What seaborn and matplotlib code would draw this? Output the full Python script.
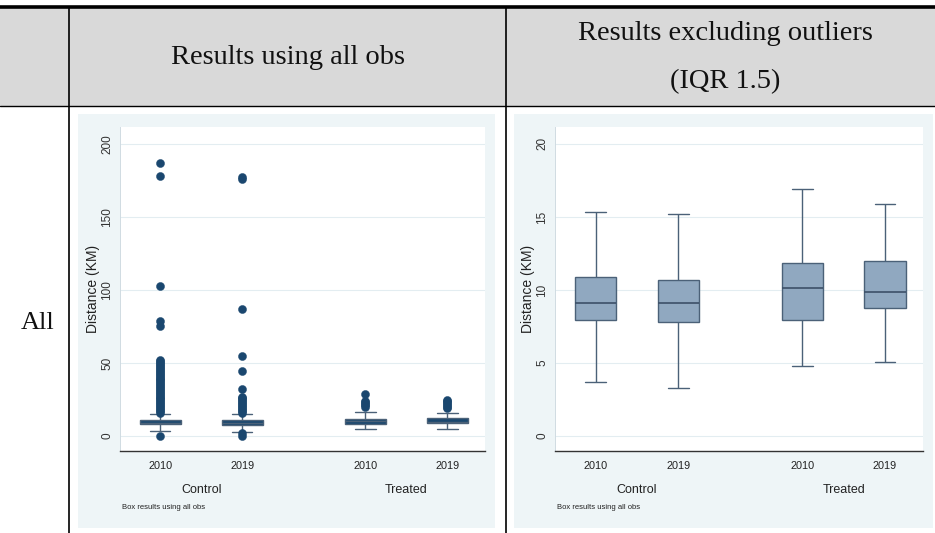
import numpy as np
import pandas as pd
import matplotlib.pyplot as plt
import seaborn as sns
from matplotlib.patches import Rectangle
from matplotlib.lines import Line2D

# x positions of the four boxes (gap between Control and Treated)
positions = [0, 1, 2.5, 3.5]
year_labels = ["2010", "2019", "2010", "2019"]
group_labels = ["Control", "Treated"]
group_centers = [0.5, 3.0]

# box summaries: lower whisker, q1, median, q3, upper whisker
ctrl10_all = [3.4, 7.9, 9.0, 10.9, 15.1]
ctrl19_all = [3.0, 7.7, 9.0, 10.7, 15.1]
trt10_all = [4.8, 8.0, 10.0, 11.8, 16.7]
trt19_all = [5.0, 8.8, 9.9, 12.0, 16.0]

# outliers shown in the all-obs panel
ctrl10_out = [0, 16, 17, 18, 19, 20, 21, 22, 23, 24, 25, 26, 27, 28, 29, 30,
              31, 32, 33, 34, 35, 36, 37, 38, 39, 40, 41, 42, 43, 44, 45, 46,
              47, 48, 49, 50, 51, 52, 75.6, 79, 102.7, 178, 187]
ctrl19_out = [0, 2, 16, 17, 18, 19, 20, 21, 22, 23, 24, 25, 26, 27, 32, 44.5,
              54.8, 86.8, 175.8, 177.6]
trt10_out = [20, 21, 22, 23, 24, 28.5]
trt19_out = [19, 20, 21, 22, 23, 24, 24.7]

# box summaries excluding outliers (IQR 1.5)
ctrl10_iqr = [3.70, 7.95, 9.09, 10.87, 15.34]
ctrl19_iqr = [3.31, 7.79, 9.09, 10.66, 15.23]
trt10_iqr = [4.77, 7.95, 10.11, 11.87, 16.94]
trt19_iqr = [5.09, 8.77, 9.89, 11.96, 15.91]

W, H = 935, 533
navy = "#1a476f"
box_edge = "#4b6178"
panel_bg = "#eef5f7"


def box_frame(summaries):
    rows = []
    for p, vals in zip(positions, summaries):
        for v in vals:
            rows.append({"pos": p, "val": v})
    return pd.DataFrame(rows)


def fx(x):
    return x / W


def fy(y):
    return 1 - y / H


def style_axes(ax, ymax, yticks):
    ax.set_facecolor("white")
    ax.set_xlim(-0.49, 3.96)
    ax.set_ylim(-ymax * 0.0515, ymax * 1.058)
    ax.set_yticks(yticks)
    ax.set_xticks(positions)
    ax.set_xticklabels(year_labels)
    ax.set_xlabel("")
    ax.set_ylabel("Distance (KM)", fontsize=10, color="#222222", labelpad=1)
    ax.tick_params(axis="x", length=0, pad=7, labelsize=7.8, colors="#222222")
    ax.tick_params(axis="y", length=3, width=0.6, color="#555555", pad=2,
                   labelsize=8.5, labelcolor="#333333", labelrotation=90)
    for t in ax.get_yticklabels():
        t.set_va("center")
    ax.yaxis.grid(True, color="#e3edf1", lw=0.8)
    ax.xaxis.grid(False)
    ax.set_axisbelow(True)
    for s in ["top", "right"]:
        ax.spines[s].set_visible(False)
    ax.spines["left"].set_color("#d0dbe2")
    ax.spines["left"].set_linewidth(0.7)
    ax.spines["bottom"].set_color("#333333")
    ax.spines["bottom"].set_linewidth(1.0)
    for gx, g in zip(group_centers, group_labels):
        ax.text(gx, -0.12, g, transform=ax.get_xaxis_transform(),
                ha="center", va="center", fontsize=9, color="#222222")
    ax.text(0.005, -0.173, "Box results using all obs", transform=ax.transAxes,
            ha="left", va="center", fontsize=5.5, color="#222222")


sns.set_theme(style="white")
plt.rcParams["font.family"] = ["Liberation Sans", "DejaVu Sans"]

fig = plt.figure(figsize=(W / 100, H / 100), dpi=100)
fig.patch.set_facecolor("white")

# table: header band, rules and separators
fig.add_artist(Rectangle((0, fy(106)), 1, fy(8) - fy(106), transform=fig.transFigure,
                         facecolor="#d9d9d9", edgecolor="none", zorder=0))
fig.add_artist(Line2D([0, 1], [fy(6.5), fy(6.5)], transform=fig.transFigure,
                      color="black", lw=2.6))
fig.add_artist(Line2D([0, 1], [fy(106), fy(106)], transform=fig.transFigure,
                      color="black", lw=1.0))
for vx in [68.5, 505.5]:
    fig.add_artist(Line2D([fx(vx), fx(vx)], [fy(8), 0], transform=fig.transFigure,
                          color="black", lw=1.2))

serif = ["Liberation Serif", "DejaVu Serif"]
fig.text(fx(288), fy(57), "Results using all obs", ha="center", va="center",
         fontsize=20.5, family=serif, color="#111111")
fig.text(fx(725), fy(34), "Results excluding outliers", ha="center", va="center",
         fontsize=20.5, family=serif, color="#111111")
fig.text(fx(725), fy(82), "(IQR 1.5)", ha="center", va="center",
         fontsize=20.5, family=serif, color="#111111")
fig.text(fx(38), fy(323), "All", ha="center", va="center", fontsize=19,
         family=serif, color="#111111")

# light blue graph regions (Stata style)
for x0, x1 in [(78, 495), (514, 933)]:
    fig.add_artist(Rectangle((fx(x0), fy(528)), fx(x1) - fx(x0), fy(114) - fy(528),
                             transform=fig.transFigure, facecolor=panel_bg,
                             edgecolor="none", zorder=0))

# left panel: all observations
ax1 = fig.add_axes([fx(120), fy(451), fx(485) - fx(120), fy(127) - fy(451)])
df_all = box_frame([ctrl10_all, ctrl19_all, trt10_all, trt19_all])
sns.boxplot(data=df_all, x="pos", y="val", native_scale=True, orient="x",
            whis=(0, 100), width=0.5, color=navy, saturation=1,
            linecolor=box_edge, linewidth=1.0, showfliers=False, ax=ax1)
out_x = ([positions[0]] * len(ctrl10_out) + [positions[1]] * len(ctrl19_out)
         + [positions[2]] * len(trt10_out) + [positions[3]] * len(trt19_out))
out_y = ctrl10_out + ctrl19_out + trt10_out + trt19_out
sns.scatterplot(x=out_x, y=out_y, color=navy, s=34, edgecolor=navy,
                linewidth=0.3, legend=False, zorder=3, ax=ax1)
style_axes(ax1, 200, [0, 50, 100, 150, 200])

# right panel: excluding outliers
ax2 = fig.add_axes([fx(555), fy(451), fx(923) - fx(555), fy(127) - fy(451)])
df_iqr = box_frame([ctrl10_iqr, ctrl19_iqr, trt10_iqr, trt19_iqr])
sns.boxplot(data=df_iqr, x="pos", y="val", native_scale=True, orient="x",
            whis=(0, 100), width=0.5, color="#90a8c0", saturation=1,
            linecolor=box_edge, linewidth=1.0, showfliers=False, ax=ax2,
            medianprops={"color": "#3c5068", "linewidth": 1.2})
style_axes(ax2, 20, [0, 5, 10, 15, 20])

fig.savefig("out.png", dpi=100, facecolor="white")
